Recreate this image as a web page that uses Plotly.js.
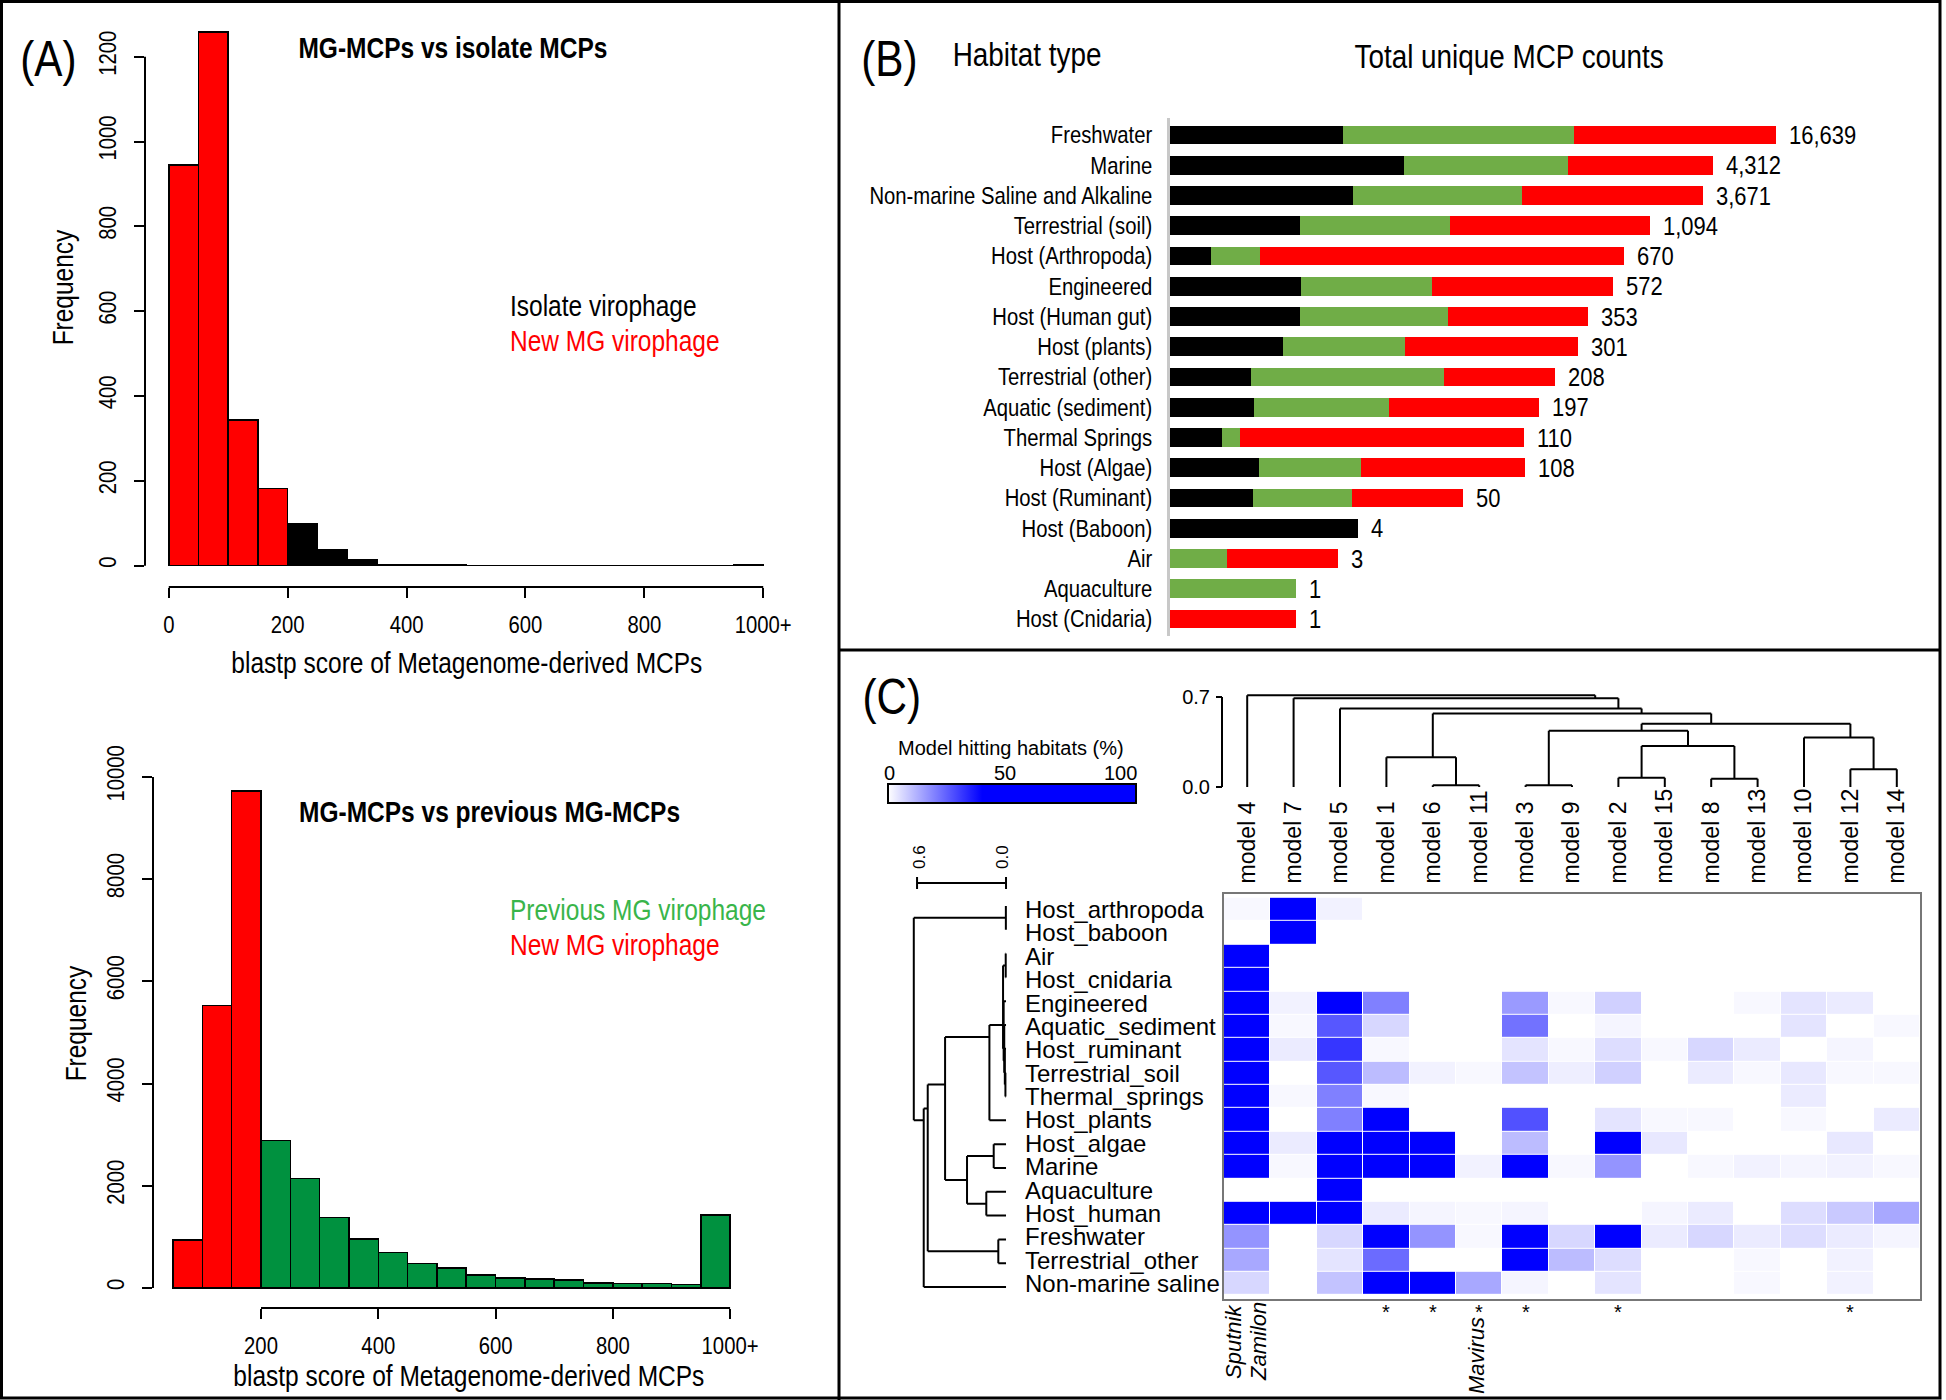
<!DOCTYPE html>
<html>
<head>
<meta charset="utf-8">
<script src="https://cdn.plot.ly/plotly-3.0.1.min.js"></script>
<style>html,body{margin:0;padding:0;background:#fff;}#chart{width:1946px;height:1400px;}</style>
</head>
<body>
<div id="chart"></div>
<script>
// ---------------- DATA ----------------
// Panel A (top): MG-MCPs vs isolate MCPs, bins of 50 starting at
const binStartsTop = [0,50,100,150,200,250,300,350,400,450,500,550,600,650,700,750,800,850,900,950];
const countsTop    = [945,1258,343,182,100,37,15,3,2,2,0,0,0,0,0,0,0,0,0,2];
// Panel A (bottom): MG-MCPs vs previous MG-MCPs
const binStartsBot = [50,100,150,200,250,300,350,400,450,500,550,600,650,700,750,800,850,900,950];
const countsBot    = [942,5524,9729,2882,2146,1383,959,691,477,391,254,196,176,157,98,87,87,70,1431];
const histTicks    = [0,200,400,600,800,1000];
const histTickText = ['0','200','400','600','800','1000+'];
const freqTicksTop = [0,200,400,600,800,1000,1200];
const freqTicksBot = [0,2000,4000,6000,8000,10000];

// Panel B: habitat composition (bar segment lengths as drawn) and total counts
const habitats = ['Freshwater','Marine','Non-marine Saline and Alkaline','Terrestrial (soil)','Host (Arthropoda)','Engineered','Host (Human gut)','Host (plants)','Terrestrial (other)','Aquatic (sediment)','Thermal Springs','Host (Algae)','Host (Ruminant)','Host (Baboon)','Air','Aquaculture','Host (Cnidaria)'];
const isolateSeg = [173,234,183,130,41,131,130,113,81,84,52,89,83,188,0,0,0];
const previousSeg = [231,164,169,150,49,131,148,122,193,135,18,102,99,0,57,126,0];
const newSeg     = [202,145,181,200,364,181,140,173,111,150,284,164,111,0,111,0,126];
const countLabels = ['16,639','4,312','3,671','1,094','670','572','353','301','208','197','110','108','50','4','3','1','1'];

// Panel C: heatmap (% of model hitting habitat)
const models = ['model 4','model 7','model 5','model 1','model 6','model 11','model 3','model 9','model 2','model 15','model 8','model 13','model 10','model 12','model 14'];
const habitatRows = ['Host_arthropoda','Host_baboon','Air','Host_cnidaria','Engineered','Aquatic_sediment','Host_ruminant','Terrestrial_soil','Thermal_springs','Host_plants','Host_algae','Marine','Aquaculture','Host_human','Freshwater','Terrestrial_other','Non-marine saline'];
const hitPct = [
  [1,96,2,0,0,0,0,0,0,0,0,0,0,0,0],
  [0,100,0,0,0,0,0,0,0,0,0,0,0,0,0],
  [100,0,0,0,0,0,0,0,0,0,0,0,0,0,0],
  [100,0,0,0,0,0,0,0,0,0,0,0,0,0,0],
  [55,2,45,19,0,0,15,1,7,0,0,1,4,3,0],
  [62,1,25,6,0,0,21,0,1.5,0,0,0,4,0,1],
  [70,3,30,1,0,0,4,1,5,1,6,3,0,1.5,0],
  [58,0,25,10,2,1,9,2.5,7,0,3,1,3.5,1,1],
  [75,1,19,1,0,0,0,0,0,0,0,0,3,0,0],
  [48,0,19,40,0,0,26,0,4,1,1,0,1,0,3],
  [40,3,42,45,50,0,10,0,45,3.5,0,0,0,3.5,0],
  [42,1,48,44,40,2,50,1,16,0,1,2,1.5,2,1],
  [0,0,100,0,0,0,0,0,0,0,0,0,0,0,0],
  [45,42,46,3,1.5,1,1.5,0,0,1.5,3,0,5,8,13],
  [16,0,6,45,16,1,52,6,48,3,6,3,5,3,1.5],
  [13,0,4,22,0,0,60,10,5,0,0,1,0,2,0],
  [6,0,9,44,55,13,1.5,0,4,0,0,1,0,2,0]
];
const starredModels = ['model 1','model 6','model 11','model 3','model 2','model 12'];

// Column dendrogram merges (numbers refer to earlier merges)
const colMergeA = ['model 6','model 3','model 2','model 8','model 12','model 1',2,'model 10',1,8,5,'model 5','model 7','model 4'];
const colMergeB = ['model 11','model 9','model 15','model 13','model 14',0,3,4,6,7,9,10,11,12];
const colMergeH = [0.013,0.013,0.072,0.065,0.139,0.232,0.318,0.385,0.437,0.491,0.571,0.610,0.690,0.713];
// Row dendrogram merges
const rowMergeA = ['Host_arthropoda','Air','Terrestrial_soil','Host_ruminant','Aquatic_sediment','Engineered',1,6,'Host_algae','Aquaculture',8,7,'Freshwater',11,13,0];
const rowMergeB = ['Host_baboon','Host_cnidaria','Thermal_springs',2,3,4,5,'Host_plants','Marine','Host_human',9,10,'Terrestrial_other',12,'Non-marine saline',14];
const rowMergeH = [0.001,0.002,0.004,0.008,0.012,0.016,0.02,0.112,0.083,0.133,0.263,0.411,0.052,0.528,0.555,0.622];

// ---------------- HELPERS ----------------
const W = 1946, H = 1400;
const PX = v => v / W;
const PY = v => 1 - v / H;
const domX = (a, b) => [a / W, b / W];
const domY = (top, bottom) => [1 - bottom / H, 1 - top / H];
const NARROW = 'Liberation Sans Narrow, Arial Narrow, Liberation Sans, sans-serif';
const ARIAL = 'Liberation Sans, Arial, sans-serif';
const RED = '#ff0000', GREEN_B = '#70ad47', GREEN_H = '#00913f', GREEN_T = '#39b54a';

function dendro(order, A, B, Hs) {
  const leaf = {};
  order.forEach((n, i) => leaf[n] = {p: i, h: 0, leaves: [i]});
  const nodes = [];
  const P = [], Hh = [];
  const get = r => (typeof r === 'number') ? nodes[r] : leaf[r];
  for (let k = 0; k < A.length; k++) {
    const a = get(A[k]), b = get(B[k]), h = Hs[k];
    P.push(a.p, a.p, null); Hh.push(a.h, h, null);
    P.push(b.p, b.p, null); Hh.push(b.h, h, null);
    P.push(a.p, b.p, null); Hh.push(h, h, null);
    const lv = a.leaves.concat(b.leaves);
    nodes.push({p: lv.reduce((s, v) => s + v, 0) / lv.length, h: h, leaves: lv});
  }
  return {pos: P, h: Hh};
}

function T(text, x, y, size, o) {
  o = o || {};
  const xa = (o.extra && o.extra.xanchor) || 'center';
  return Object.assign({
    text: text, x: PX(x), y: PY(y), xref: 'paper', yref: 'paper', showarrow: false,
    xanchor: 'center', yanchor: 'middle', align: xa,
    font: {family: o.family || NARROW, size: size, color: o.color || 'black', weight: o.weight || 'normal', style: o.style || 'normal'}
  }, o.extra || {});
}

// ---------------- TRACES ----------------
const traces = [];
traces.push({
  type: 'bar', x: binStartsTop, y: countsTop, width: 50, offset: 0,
  marker: {color: binStartsTop.map(b => b < 200 ? RED : 'black'), line: {color: 'black', width: 1.5}},
  xaxis: 'x', yaxis: 'y', hoverinfo: 'skip'
});
traces.push({
  type: 'bar', x: binStartsBot, y: countsBot, width: 50, offset: 0,
  marker: {color: binStartsBot.map(b => b < 200 ? RED : GREEN_H), line: {color: 'black', width: 1.5}},
  xaxis: 'x2', yaxis: 'y2', hoverinfo: 'skip'
});
[[isolateSeg, 'black'], [previousSeg, GREEN_B], [newSeg, RED]].forEach(s => {
  traces.push({
    type: 'bar', orientation: 'h', x: s[0], y: habitats, width: 0.62,
    marker: {color: s[1], line: {width: 0}}, xaxis: 'x3', yaxis: 'y3', hoverinfo: 'skip'
  });
});
traces.push({
  type: 'heatmap', x: models, y: habitatRows, z: hitPct, zmin: 0, zmax: 100,
  colorscale: [[0, '#ffffff'], [0.38, '#0000ff'], [1, '#0000ff']],
  xgap: 1, ygap: 1, xaxis: 'x4', yaxis: 'y4', hoverinfo: 'skip',
  colorbar: {orientation: 'h', x: PX(888), xanchor: 'left', y: PY(805), yanchor: 'bottom',
    len: 248, lenmode: 'pixels', thickness: 19, thicknessmode: 'pixels',
    outlinewidth: 2, outlinecolor: 'black', showticklabels: false, ticks: '', xpad: 0, ypad: 0}
});
const cd = dendro(models, colMergeA, colMergeB, colMergeH);
traces.push({type: 'scatter', mode: 'lines', x: cd.pos, y: cd.h, line: {color: 'black', width: 2},
  xaxis: 'x6', yaxis: 'y6', hoverinfo: 'skip'});
const rd = dendro(habitatRows, rowMergeA, rowMergeB, rowMergeH);
traces.push({type: 'scatter', mode: 'lines', x: rd.h, y: rd.pos, line: {color: 'black', width: 2},
  xaxis: 'x7', yaxis: 'y7', hoverinfo: 'skip'});

// ---------------- LAYOUT ----------------
const tickFontA = {family: NARROW, size: 24, color: 'black'};
const layout = {
  width: W, height: H, margin: {l: 0, r: 0, t: 0, b: 0},
  paper_bgcolor: 'white', plot_bgcolor: 'rgba(0,0,0,0)', showlegend: false,
  barmode: 'stack',
  xaxis: {domain: domX(145, 787), range: [-40, 1040], tickvals: histTicks, ticktext: histTickText,
    ticks: 'outside', ticklen: 10, tickwidth: 2, tickcolor: 'black', showgrid: false, zeroline: false,
    showline: false, tickfont: tickFontA, ticklabelstandoff: 6, anchor: 'y'},
  yaxis: {domain: domY(11, 587), range: [-50.3, 1308], tickvals: freqTicksTop, ticktext: freqTicksTop.map(String),
    ticks: 'outside', ticklen: 10, tickwidth: 2, tickcolor: 'black', showgrid: false, zeroline: false,
    showline: false, tickangle: -90, tickfont: tickFontA, ticklabelstandoff: 8, anchor: 'x'},
  xaxis2: {domain: domX(153, 752), range: [15.8, 1037.4], tickvals: [200, 400, 600, 800, 1000],
    ticktext: ['200', '400', '600', '800', '1000+'], ticks: 'outside', ticklen: 10, tickwidth: 2, tickcolor: 'black',
    showgrid: false, zeroline: false, showline: false, tickfont: tickFontA, ticklabelstandoff: 6, anchor: 'y2'},
  yaxis2: {domain: domY(768, 1308), range: [-391, 10176], tickvals: freqTicksBot, ticktext: freqTicksBot.map(String),
    ticks: 'outside', ticklen: 10, tickwidth: 2, tickcolor: 'black', showgrid: false, zeroline: false,
    showline: false, tickangle: -90, tickfont: tickFontA, ticklabelstandoff: 8, anchor: 'x2'},
  xaxis3: {domain: domX(1170, 1900), range: [0, 730], visible: false, anchor: 'y3'},
  yaxis3: {domain: domY(118, 636), autorange: 'reversed', type: 'category', ticks: '', showgrid: false,
    zeroline: false, showline: true, linecolor: '#c8c8c8', linewidth: 3,
    tickfont: {family: NARROW, size: 24, color: 'black'}, ticklabelstandoff: 10, anchor: 'x3'},
  xaxis4: {domain: domX(1224, 1920), type: 'category', side: 'top', tickangle: -90, ticks: '',
    tickfont: {family: ARIAL, size: 23, color: 'black'}, showgrid: false, zeroline: false,
    showline: true, mirror: true, linecolor: '#777', linewidth: 2, ticklabelstandoff: 4, anchor: 'y4'},
  yaxis4: {domain: domY(894, 1299), type: 'category', autorange: 'reversed', showticklabels: false, ticks: '',
    showgrid: false, zeroline: false, showline: true, mirror: true, linecolor: '#777', linewidth: 2, anchor: 'x4'},
  xaxis6: {domain: domX(1224, 1920), range: [-0.5, 14.5], visible: false, anchor: 'y6'},
  yaxis6: {domain: domY(690, 788.3), range: [-0.01, 0.7544], tickvals: [0, 0.7], ticktext: ['0.0', '0.7'],
    ticks: 'outside', ticklen: 6, tickwidth: 2, tickcolor: 'black', showgrid: false, zeroline: false,
    showline: false, anchor: 'free', position: PX(1222), tickfont: {family: ARIAL, size: 20, color: 'black'},
    ticklabelstandoff: 2},
  xaxis7: {domain: domX(900, 1007.5), range: [0.715, -0.01], visible: false, anchor: 'y7'},
  yaxis7: {domain: domY(894, 1299), range: [16.5, -0.5], visible: false, anchor: 'x7'},
  shapes: [],
  annotations: []
};

const S = layout.shapes, A = layout.annotations;
const ln = (o) => S.push(Object.assign({type: 'line', line: {color: 'black', width: 2}}, o));
// panel borders
S.push({type: 'rect', xref: 'paper', yref: 'paper', x0: PX(1.5), x1: PX(1940), y0: PY(1398), y1: PY(1.5), line: {color: 'black', width: 3}});
ln({xref: 'paper', yref: 'paper', x0: PX(839), x1: PX(839), y0: PY(0), y1: PY(1400), line: {color: 'black', width: 3}});
ln({xref: 'paper', yref: 'paper', x0: PX(839), x1: PX(1940), y0: PY(650), y1: PY(650), line: {color: 'black', width: 3}});
// panel A axis lines
ln({xref: 'x', yref: 'paper', x0: 0, x1: 1000, y0: PY(587), y1: PY(587)});
ln({xref: 'paper', yref: 'y', x0: PX(145), x1: PX(145), y0: 0, y1: 1200});
ln({xref: 'x2', yref: 'paper', x0: 200, x1: 1000, y0: PY(1308), y1: PY(1308)});
ln({xref: 'paper', yref: 'y2', x0: PX(153), x1: PX(153), y0: 0, y1: 10000});
// top dendrogram axis line
ln({xref: 'paper', yref: 'y6', x0: PX(1222), x1: PX(1222), y0: 0, y1: 0.7});
// left dendrogram scale bar
ln({xref: 'x7', yref: 'paper', x0: 0.6, x1: 0, y0: PY(883), y1: PY(883)});
ln({xref: 'x7', yref: 'paper', x0: 0.6, x1: 0.6, y0: PY(877), y1: PY(889)});
ln({xref: 'x7', yref: 'paper', x0: 0, x1: 0, y0: PY(877), y1: PY(889)});

// Panel A text
A.push(T('(A)', 48, 59, 50));
A.push(T('MG-MCPs vs isolate MCPs', 453, 48, 29, {weight: 'bold'}));
A.push(T('Isolate virophage', 508, 306, 29, {extra: {xanchor: 'left'}}));
A.push(T('New MG virophage', 508, 341, 29, {color: RED, extra: {xanchor: 'left'}}));
A.push(T('Frequency', 63, 287, 29, {extra: {textangle: -90}}));
A.push(T('blastp score of Metagenome-derived MCPs', 467, 663, 29));
A.push(T('MG-MCPs vs previous MG-MCPs', 489, 812, 29, {weight: 'bold'}));
A.push(T('Previous MG virophage', 508, 910, 29, {color: GREEN_T, extra: {xanchor: 'left'}}));
A.push(T('New MG virophage', 508, 945, 29, {color: RED, extra: {xanchor: 'left'}}));
A.push(T('Frequency', 76, 1023, 29, {extra: {textangle: -90}}));
A.push(T('blastp score of Metagenome-derived MCPs', 469, 1376, 29));

// Panel B text
A.push(T('(B)', 889, 59, 50));
A.push(T('Habitat type', 1027, 54, 33));
A.push(T('Total unique MCP counts', 1509, 56, 33));
habitats.forEach((h, i) => {
  A.push({text: countLabels[i], x: isolateSeg[i] + previousSeg[i] + newSeg[i], y: h, xref: 'x3', yref: 'y3',
    xanchor: 'left', align: 'left', yanchor: 'middle', xshift: 11, showarrow: false,
    font: {family: NARROW, size: 26, color: 'black'}});
});

// Panel C text
A.push(T('(C)', 891, 697, 50));
A.push(T('Model hitting habitats (%)', 1011, 748, 20, {family: ARIAL}));
A.push(T('0', 889, 773, 20, {family: ARIAL}));
A.push(T('50', 1005, 773, 20, {family: ARIAL}));
A.push(T('100', 1120, 773, 20, {family: ARIAL}));
A.push(T('0.6', 920, 857, 17, {family: ARIAL, extra: {textangle: -90}}));
A.push(T('0.0', 1003, 857, 17, {family: ARIAL, extra: {textangle: -90}}));
habitatRows.forEach(r => {
  A.push({text: r, x: PX(1023), xref: 'paper', y: r, yref: 'y4', xanchor: 'left', align: 'left', yanchor: 'middle',
    showarrow: false, font: {family: ARIAL, size: 24, color: 'black'}});
});
starredModels.forEach(m => {
  A.push({text: '*', x: m, xref: 'x4', y: PY(1312), yref: 'paper', xanchor: 'center', yanchor: 'middle',
    showarrow: false, font: {family: ARIAL, size: 20, color: 'black'}});
});
A.push(T('Sputnik', 1233, 1342, 22, {family: ARIAL, style: 'italic', extra: {textangle: -90}}));
A.push(T('Zamilon', 1258, 1342, 22, {family: ARIAL, style: 'italic', extra: {textangle: -90}}));
A.push(T('Mavirus', 1476, 1356, 22, {family: ARIAL, style: 'italic', extra: {textangle: -90}}));

// If no narrow font is installed, condense the narrow-styled text horizontally about its anchor point
function narrowInstalled() {
  const c = document.createElement('canvas').getContext('2d');
  c.font = '40px "Liberation Sans Narrow", monospace';
  const w1 = c.measureText('abcdefghijklmnop').width;
  c.font = '40px monospace';
  const w2 = c.measureText('abcdefghijklmnop').width;
  return Math.abs(w1 - w2) > 0.5;
}
function condense() {
  if (narrowInstalled()) return;
  const s = 0.845;
  document.querySelectorAll('#chart text').forEach(el => {
    const ff = el.style.fontFamily || '';
    if (!/Narrow/.test(ff)) return;
    const x = parseFloat(el.getAttribute('x')) || 0;
    const y = parseFloat(el.getAttribute('y')) || 0;
    const t = el.getAttribute('transform') || '';
    el.setAttribute('transform', t + ' translate(' + x + ',' + y + ') scale(' + s + ',1) translate(' + (-x) + ',' + (-y) + ')');
  });
}

Plotly.newPlot('chart', traces, layout, {staticPlot: true, displayModeBar: false}).then(condense);
</script>
</body>
</html>
